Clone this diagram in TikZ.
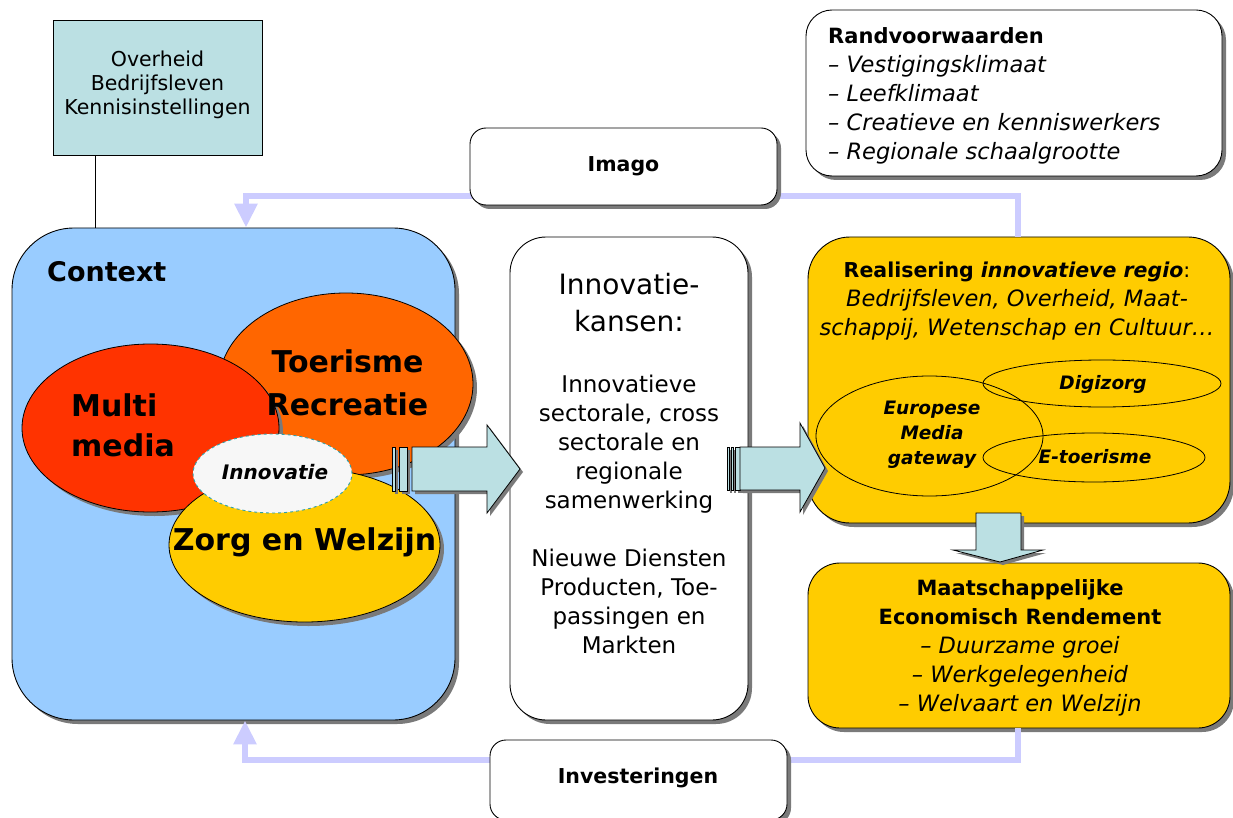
\documentclass[tikz,border=0pt]{standalone}
\usepackage{fontspec}
\setmainfont{DejaVu Sans}
\usetikzlibrary{shapes.geometric,arrows.meta,shadows}
\definecolor{ctxblue}{HTML}{99CCFF}
\definecolor{teal1}{HTML}{BBE0E3}
\definecolor{orng}{HTML}{FF6600}
\definecolor{redd}{HTML}{FF3300}
\definecolor{yell}{HTML}{FFCC00}
\definecolor{lav}{HTML}{CCCCFF}
\definecolor{shad}{HTML}{7A7A7A}
\definecolor{dashteal}{HTML}{2FA0A8}
\definecolor{offwhite}{HTML}{F7F7F7}
\newcommand\fsz[2]{\fontsize{#1}{#2}\selectfont}
\tikzset{
  shd/.style={drop shadow={shadow xshift=4pt,shadow yshift=-4pt,fill=shad,opacity=1}},
  rbox/.style={draw=black,line width=0.9pt,rectangle,inner sep=0pt,shd},
  ell/.style={draw=black,line width=0.8pt,ellipse,inner sep=0pt},
  ellshd/.style={ell,drop shadow={shadow xshift=4pt,shadow yshift=-4pt,fill=shad,opacity=1}},
  txt/.style={inner sep=0pt,align=center},
  feedback/.style={draw=lav,line width=6pt,-{Triangle[width=22pt,length=24pt]}},
  blockarrow/.style={draw=black,line width=0.8pt,fill=teal1},
  arrshadow/.style={fill=shad},
}
\begin{document}
\begin{tikzpicture}[x=1pt,y=-1pt]
\useasboundingbox (0,0) rectangle (1233,818);

% top-left actors box
\node[draw=black,line width=0.9pt,fill=teal1,minimum width=209pt,minimum height=135pt,inner sep=0pt] (ovh) at (157.5,87.5) {};
\node[txt,font=\fsz{20.5}{24}] (ovhtxt) at (157.5,85) {Overheid\\Bedrijfsleven\\Kennisinstellingen};

% context box
\node[rbox,fill=ctxblue,rounded corners=62pt,minimum width=443pt,minimum height=492pt] (ctx) at (233.5,474) {};
\draw[line width=0.9pt] (ovh.south -| 95,0) -- (ctx.north -| 95,0);
\node[inner sep=0pt,anchor=west,font=\fsz{27}{32}\bfseries] (ctxt) at (47,272) {Context};

% ellipses in context
\node[ellshd,fill=orng,minimum width=254pt,minimum height=182pt] (eor) at (346,384) {};
\node[ellshd,fill=redd,minimum width=257pt,minimum height=168pt] (ere) at (150.5,428) {};
\node[ellshd,fill=yell,minimum width=271pt,minimum height=154pt] (eye) at (304.5,545) {};
\node[ellipse,draw=dashteal,dashed,line width=0.9pt,fill=offwhite,minimum width=159pt,minimum height=79pt,inner sep=0pt] (ein) at (272.5,473.5) {};
\node[txt,font=\fsz{30}{43}\bfseries] (tor) at (347.5,383) {Toerisme\\Recreatie};
\node[inner sep=0pt,align=left,anchor=west,font=\fsz{30}{40}\bfseries] (tre) at (71,425) {Multi\\media};
\node[txt,font=\fsz{30}{36}\bfseries] (tye) at (304.5,542) {Zorg en Welzijn};
\node[txt,font=\fsz{20}{24}\bfseries\itshape] (tin) at (275,472) {Innovatie};

% innovatiekansen box
\node[rbox,fill=white,rounded corners=36pt,minimum width=238pt,minimum height=483pt] (kans) at (629,478.5) {};
\node[txt,font=\fsz{28}{37}] (kanshead) at (629,303) {Innovatie-\\kansen:};
\node[txt,font=\fsz{23}{29}] (kansbody) at (629,514) {Innovatieve\\sectorale, cross\\sectorale en\\regionale\\samenwerking\\[29pt]Nieuwe Diensten\\Producten, Toe-\\passingen en\\Markten};

% realisering box
\node[rbox,fill=yell,rounded corners=42pt,minimum width=422pt,minimum height=286pt] (real) at (1019,380) {};
\node[txt,font=\fsz{22.5}{29}] (realtxt) at (1017,301) {{\fontsize{20.5}{29}\selectfont\textbf{Realisering \textit{innovatieve regio}}:}\\\textit{Bedrijfsleven, Overheid, Maat-}\\\textit{schappij, Wetenschap en Cultuur…}};
\node[ell,minimum width=227pt,minimum height=120pt] (eeu) at (929.5,436) {};
\node[ell,minimum width=238pt,minimum height=47pt] (edi) at (1102,383.5) {};
\node[ell,minimum width=222pt,minimum height=49pt] (eto) at (1094,457.5) {};
\node[txt,font=\fsz{18.5}{25}\bfseries\itshape] (teu) at (932,435) {Europese\\Media\\gateway};
\node[txt,font=\fsz{18.5}{25}\bfseries\itshape] (tdi) at (1103,384) {Digizorg};
\node[txt,font=\fsz{18.5}{25}\bfseries\itshape] (tto) at (1095,457) {E-toerisme};

% maatschappelijk rendement box
\node[rbox,fill=yell,rounded corners=32pt,minimum width=422pt,minimum height=165pt] (maat) at (1019,645.5) {};
\node[txt,font=\fsz{22.5}{29}] (maattxt) at (1020,648) {{\fontsize{21}{29}\selectfont\bfseries Maatschappelijke}\\{\fontsize{21}{29}\selectfont\bfseries Economisch Rendement}\\\textit{– Duurzame groei}\\\textit{– Werkgelegenheid}\\\textit{– Welvaart en Welzijn}};

% randvoorwaarden box
\node[rbox,fill=white,rounded corners=26pt,minimum width=416pt,minimum height=166pt] (rand) at (1014,93) {};
\node[inner sep=0pt,align=left,anchor=west,font=\fsz{22.5}{29}] (randtxt) at (828,96) {{\fontsize{21}{29}\selectfont\bfseries Randvoorwaarden}\\\textit{– Vestigingsklimaat}\\\textit{– Leefklimaat}\\\textit{– Creatieve en kenniswerkers}\\\textit{– Regionale schaalgrootte}};

% block arrow 1 (context -> kansen)
\fill[arrshadow] (415,450) -- (490,450) -- (490,428) -- (523,472) -- (490,516) -- (490,494) -- (415,494) -- cycle;
\fill[arrshadow] (395,450) rectangle (398,494);
\fill[arrshadow] (402,450) rectangle (410,494);
\draw[blockarrow] (392,447) rectangle (395,491);
\draw[blockarrow] (399,447) rectangle (407,491);
\draw[blockarrow] (412,447) -- (487,447) -- (487,425) -- (520,469) -- (487,513) -- (487,491) -- (412,491) -- cycle;

% block arrow 2 (kansen -> realisering)
\fill[arrshadow] (743,450) -- (803,450) -- (803,426) -- (828,471) -- (803,515) -- (803,493) -- (743,493) -- cycle;
\fill[arrshadow] (730,450) rectangle (732,493);
\fill[arrshadow] (734,450) rectangle (736,493);
\fill[arrshadow] (738,450) rectangle (743,493);
\draw[blockarrow] (727,447) rectangle (729,490);
\draw[blockarrow] (731,447) rectangle (733,490);
\draw[blockarrow] (735,447) rectangle (740,490);
\draw[blockarrow] (740,447) -- (800,447) -- (800,423) -- (825,468) -- (800,512) -- (800,490) -- (740,490) -- cycle;

% down arrow
\fill[arrshadow] (979,516) -- (1024,516) -- (1024,553) -- (1046,553) -- (1003,565) -- (956,553) -- (979,553) -- cycle;
\draw[blockarrow] (976,513) -- (1021,513) -- (1021,550) -- (1043,550) -- (1000,562) -- (953,550) -- (976,550) -- cycle;

% feedback loops
\draw[feedback] (real.north -| 1018,0) -- (1018,196) -- (246,196) -- (ctx.north -| 246,0);
\draw[feedback] (maat.south -| 1018,0) -- (1018,760) -- (245,760) -- (ctx.south -| 245,0);

% imago / investeringen
\node[rbox,fill=white,rounded corners=16pt,minimum width=307pt,minimum height=77pt] (imago) at (623.5,166.5) {};
\node[txt,font=\fsz{20.5}{24}\bfseries] (imagot) at (623.5,166) {Imago};
\node[rbox,fill=white,rounded corners=16pt,minimum width=297pt,minimum height=80pt] (inv) at (638.5,780) {};
\node[txt,font=\fsz{20.5}{24}\bfseries] (invt) at (638,778) {Investeringen};
\end{tikzpicture}
\end{document}
